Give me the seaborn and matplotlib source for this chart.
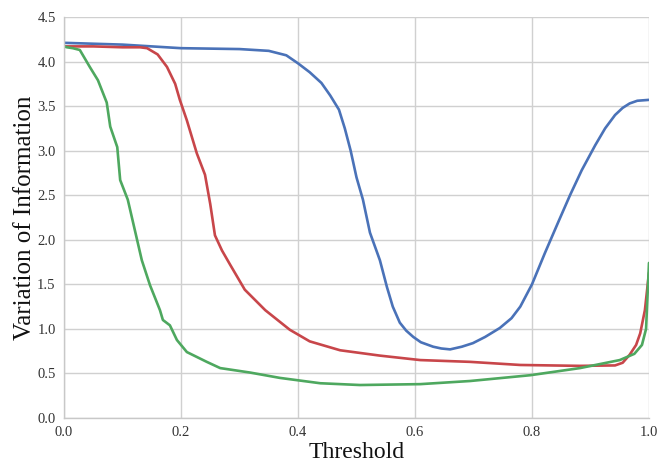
import matplotlib
matplotlib.use("Agg")
import matplotlib.pyplot as plt
import seaborn as sns
import pandas as pd

blue_x = [0.0, 0.05, 0.1, 0.15, 0.2, 0.3, 0.35, 0.38, 0.4, 0.42, 0.44, 0.455, 0.47, 0.48, 0.49, 0.5, 0.511,
          0.523, 0.54, 0.552, 0.562, 0.574, 0.585, 0.597, 0.61, 0.631, 0.645, 0.66, 0.68, 0.699, 0.72, 0.745,
          0.765, 0.78, 0.8, 0.822, 0.845, 0.865, 0.885, 0.908, 0.925, 0.942, 0.955, 0.967, 0.98, 1.0]
blue_y = [4.21, 4.20, 4.19, 4.17, 4.15, 4.14, 4.12, 4.07, 3.98, 3.88, 3.76, 3.62, 3.46, 3.25, 3.0, 2.7, 2.45,
          2.08, 1.77, 1.47, 1.25, 1.07, 0.98, 0.91, 0.85, 0.80, 0.78, 0.77, 0.80, 0.84, 0.91, 1.01,
          1.12, 1.25, 1.50, 1.85, 2.2, 2.50, 2.78, 3.06, 3.25, 3.40, 3.48, 3.53, 3.56, 3.57]

red_x = [0.0, 0.05, 0.1, 0.13, 0.142, 0.16, 0.176, 0.19, 0.198, 0.21, 0.227, 0.241, 0.25, 0.258, 0.27, 0.284,
         0.309, 0.344, 0.386, 0.42, 0.472, 0.54, 0.609, 0.694, 0.78, 0.882, 0.942, 0.955, 0.967, 0.978, 0.985,
         0.993, 1.0]
red_y = [4.17, 4.17, 4.16, 4.16, 4.15, 4.08, 3.94, 3.75, 3.57, 3.34, 2.97, 2.73, 2.4, 2.05, 1.88, 1.72,
         1.44, 1.21, 0.99, 0.86, 0.76, 0.70, 0.65, 0.63, 0.595, 0.585, 0.59, 0.62, 0.71, 0.82, 0.95,
         1.21, 1.63]

green_x = [0.0, 0.005, 0.015, 0.027, 0.044, 0.058, 0.073, 0.079, 0.091, 0.096, 0.109, 0.121, 0.133, 0.147,
           0.164, 0.169, 0.181, 0.193, 0.21, 0.244, 0.267, 0.318, 0.369, 0.438, 0.506, 0.609, 0.694, 0.797,
           0.882, 0.95, 0.975, 0.988, 0.995, 1.0]
green_y = [4.17, 4.16, 4.15, 4.13, 3.94, 3.79, 3.54, 3.27, 3.04, 2.67, 2.45, 2.11, 1.77, 1.49,
           1.21, 1.10, 1.04, 0.875, 0.74, 0.63, 0.56, 0.51, 0.45, 0.39, 0.37, 0.38, 0.415, 0.48,
           0.56, 0.65, 0.72, 0.82, 1.0, 1.74]

series = {"blue": (blue_x, blue_y), "red": (red_x, red_y), "green": (green_x, green_y)}
colors = {"blue": "#4a72b8", "red": "#c8464a", "green": "#4ea85f"}

frames = []
for name, (xs, ys) in series.items():
    frames.append(pd.DataFrame({"x": xs, "y": ys, "s": name}))
df = pd.concat(frames, ignore_index=True)

sns.set_theme(style="whitegrid")
plt.rcParams["font.family"] = ["Liberation Serif", "DejaVu Serif"]

fig = plt.figure(figsize=(6.58, 4.63), dpi=100)
ax = fig.add_axes([0.0973, 0.0972, 0.889, 0.8661])
for name in ["blue", "red", "green"]:
    sns.lineplot(data=df[df.s == name], x="x", y="y", color=colors[name], lw=1.9, ax=ax,
                 sort=False, estimator=None)

ax.set_xlim(0, 1)
ax.set_ylim(0, 4.5)
ax.set_xticks([0, 0.2, 0.4, 0.6, 0.8, 1.0])
ax.set_xticklabels(["0.0", "0.2", "0.4", "0.6", "0.8", "1.0"])
ax.set_yticks([0, 0.5, 1, 1.5, 2, 2.5, 3, 3.5, 4, 4.5])
ax.set_yticklabels(["0.0", "0.5", "1.0", "1.5", "2.0", "2.5", "3.0", "3.5", "4.0", "4.5"])
ax.grid(True, color="#d0d0d0", lw=1.0)
for sp in ["top", "right"]:
    ax.spines[sp].set_visible(False)
for sp in ["left", "bottom"]:
    ax.spines[sp].set_color("#c8c8c8")
    ax.spines[sp].set_linewidth(1.0)
ax.tick_params(axis="both", labelsize=10.5, colors="#333333", length=0, pad=6)
ax.set_xlabel("Threshold", fontsize=17, color="#111111", labelpad=2)
ax.set_ylabel("Variation of Information", fontsize=18, color="#111111")
ax.yaxis.set_label_coords(-0.048, 0.5)

fig.savefig("out.png", dpi=100)
